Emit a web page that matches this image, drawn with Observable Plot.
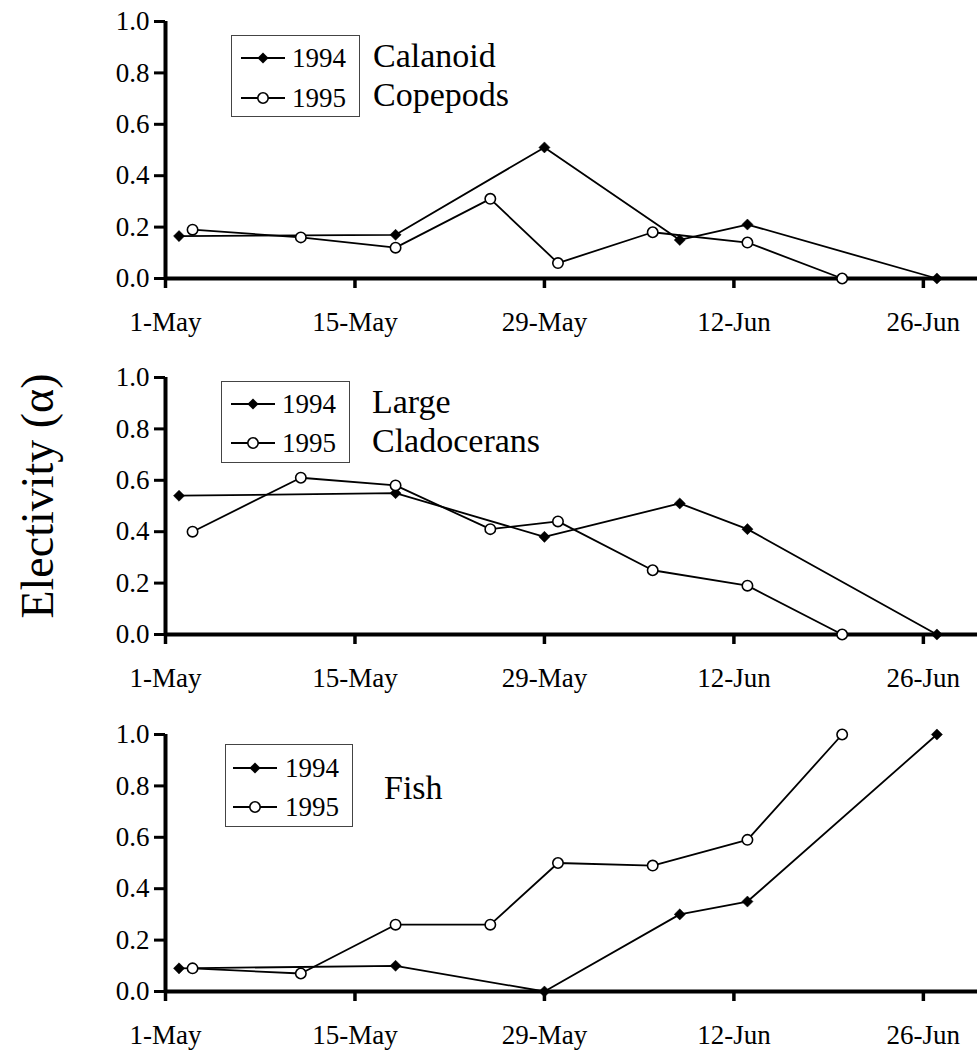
<!DOCTYPE html>
<html>
<head>
<meta charset="utf-8">
<script src="https://cdn.jsdelivr.net/npm/d3@7"></script>
<script src="https://cdn.jsdelivr.net/npm/@observablehq/plot@0.6"></script>
<style>
  html, body { margin: 0; padding: 0; background: white; }
  #page { position: relative; width: 977px; height: 1052px; overflow: hidden; font-family: "Liberation Serif", "Times New Roman", serif; }
  .panel { position: absolute; left: 0; width: 977px; }
  .overlay { position: absolute; left: 0; top: 0; pointer-events: none; }
</style>
</head>
<body>
<div id="page"></div>
<script>
// ---- data ----
const dates1994 = ["2-May", "18-May", "29-May", "8-Jun", "13-Jun", "27-Jun"];
const dates1995 = ["3-May", "11-May", "18-May", "25-May", "30-May", "6-Jun", "13-Jun", "20-Jun"];

const calanoid1994 = [0.165, 0.17, 0.51, 0.15, 0.21, 0.0];
const calanoid1995 = [0.19, 0.16, 0.12, 0.31, 0.06, 0.18, 0.14, 0.0];

const cladoceran1994 = [0.54, 0.55, 0.38, 0.51, 0.41, 0.0];
const cladoceran1995 = [0.40, 0.61, 0.58, 0.41, 0.44, 0.25, 0.19, 0.0];

const fish1994 = [0.09, 0.10, 0.0, 0.30, 0.35, 1.0];
const fish1995 = [0.09, 0.07, 0.26, 0.26, 0.50, 0.49, 0.59, 1.0];

const xDomainLabels = ["1-May", "30-Jun"];
const xTickLabels = ["1-May", "15-May", "29-May", "12-Jun", "26-Jun"];
const yTickValues = [0, 0.2, 0.4, 0.6, 0.8, 1.0];
const legendYears = ["1994", "1995"];
const panelTitles = [["Calanoid", "Copepods"], ["Large", "Cladocerans"], ["Fish"]];
const yAxisLabel = "Electivity (\u03b1)";

// ---- helpers ----
const parse = s => d3.utcParse("%d-%b-%Y")(s + "-2000");
const xDomain = xDomainLabels.map(parse);
const xTicks = xTickLabels.map(parse);
const fmtDate = d3.utcFormat("%-d-%b");

function series(dates, values) {
  return dates.map((d, i) => ({date: parse(d), value: values[i]}));
}

const panels = [
  {a: series(dates1994, calanoid1994), b: series(dates1995, calanoid1995), top: 0,
   legend: {x: 231, y: 35, w: 128, h: 81, lineX: 241, rows: [58, 98], textX: 292},
   title: {x: 373, ys: [67, 106]}},
  {a: series(dates1994, cladoceran1994), b: series(dates1995, cladoceran1995), top: 356,
   legend: {x: 221, y: 25, w: 128, h: 81, lineX: 231, rows: [48, 87], textX: 282},
   title: {x: 372, ys: [57, 96]}},
  {a: series(dates1994, fish1994), b: series(dates1995, fish1995), top: 713,
   legend: {x: 225, y: 31, w: 127, h: 82, lineX: 233, rows: [55, 94], textX: 285},
   title: {x: 384, ys: [86]}}
];

const page = document.getElementById("page");
const W = 977, H = 339;
const FONT = '"Liberation Serif", "Times New Roman", Times, serif';
const DIAMOND_R = 5, CIRCLE_R = 5.2, LINE_W = 1.8;

panels.forEach((p, idx) => {
  const div = document.createElement("div");
  div.className = "panel";
  div.style.top = p.top + "px";
  div.style.height = H + "px";

  const chart = Plot.plot({
    width: W,
    height: H,
    marginLeft: 165,
    marginRight: 0,
    marginTop: 21,
    marginBottom: 61,
    style: {fontFamily: FONT, fontSize: "27px", color: "black", background: "white", overflow: "visible"},
    x: {type: "utc", domain: xDomain},
    y: {domain: [0, 1]},
    marks: [
      Plot.axisX({ticks: xTicks, tickFormat: fmtDate, tickSize: 10, tickPadding: 23, strokeWidth: 3.5, fontSize: 27, label: null}),
      Plot.axisY({ticks: yTickValues, tickFormat: d3.format(".1f"), tickSize: 11, tickPadding: 5, strokeWidth: 3, fontSize: 27, label: null}),
      Plot.ruleY([0], {stroke: "black", strokeWidth: 4}),
      Plot.ruleX([xDomain[0]], {y1: 0, y2: 1, stroke: "black", strokeWidth: 4}),
      Plot.line(p.a, {x: "date", y: "value", stroke: "black", strokeWidth: LINE_W}),
      Plot.line(p.b, {x: "date", y: "value", stroke: "black", strokeWidth: LINE_W}),
      Plot.dot(p.a, {x: "date", y: "value", symbol: "diamond2", r: DIAMOND_R, fill: "black", stroke: "black", strokeWidth: 0.5}),
      Plot.dot(p.b, {x: "date", y: "value", r: CIRCLE_R, fill: "white", stroke: "black", strokeWidth: 1.6})
    ]
  });
  chart.querySelectorAll("text").forEach(t => t.style.fontFamily = FONT);
  div.appendChild(chart);

  // legend + panel label overlay
  const svg = d3.create("svg")
    .attr("class", "overlay")
    .attr("width", W).attr("height", H)
    .style("font-family", FONT);
  const L = p.legend;
  svg.append("rect")
    .attr("x", L.x + 0.5).attr("y", L.y + 0.5).attr("width", L.w).attr("height", L.h)
    .attr("fill", "white").attr("stroke", "#444").attr("stroke-width", 1);
  legendYears.forEach((yr, i) => {
    const cy = L.rows[i];
    svg.append("line")
      .attr("x1", L.lineX).attr("x2", L.lineX + 44).attr("y1", cy).attr("y2", cy)
      .attr("stroke", "black").attr("stroke-width", LINE_W);
    const cx = L.lineX + 22;
    if (i === 0) {
      svg.append("path")
        .attr("d", d3.symbol(d3.symbolDiamond2, DIAMOND_R * DIAMOND_R * Math.PI)())
        .attr("transform", `translate(${cx},${cy})`)
        .attr("fill", "black");
    } else {
      svg.append("circle").attr("cx", cx).attr("cy", cy).attr("r", CIRCLE_R)
        .attr("fill", "white").attr("stroke", "black").attr("stroke-width", 1.6);
    }
    svg.append("text")
      .attr("x", L.textX).attr("y", cy).attr("dy", "0.34em")
      .style("font-family", FONT)
      .attr("font-size", 27).attr("fill", "black").text(yr);
  });
  panelTitles[idx].forEach((t, i) => {
    svg.append("text")
      .attr("x", p.title.x).attr("y", p.title.ys[i])
      .style("font-family", FONT)
      .attr("font-size", 34).attr("fill", "black").text(t);
  });
  div.appendChild(svg.node());
  page.appendChild(div);
});

// shared y-axis label
const lab = d3.create("svg")
  .attr("class", "overlay")
  .attr("width", 90).attr("height", 1052)
  .style("font-family", FONT);
lab.append("text")
  .attr("transform", "translate(53,496) rotate(-90)")
  .attr("text-anchor", "middle")
  .style("font-family", FONT)
  .attr("font-size", 46)
  .attr("fill", "black")
  .text(yAxisLabel);
page.appendChild(lab.node());
</script>
</body>
</html>
